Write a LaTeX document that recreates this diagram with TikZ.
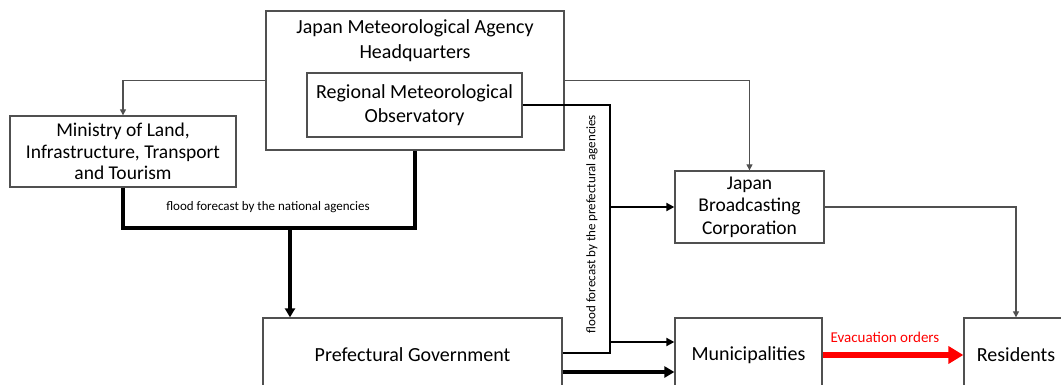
\documentclass[tikz,border=0pt]{standalone}
\usepackage{fontspec}
\setmainfont{Carlito}
\usetikzlibrary{arrows.meta}
\definecolor{boxgray}{HTML}{505050}
\definecolor{evred}{HTML}{FF0000}
\begin{document}
\begin{tikzpicture}[x=1pt,y=-1pt,
  box/.style={draw=boxgray,line width=1.3pt,rectangle,inner sep=0pt,align=center,
    font=\fontsize{20}{23}\selectfont},
  thinarrow/.style={draw=boxgray,line width=1.1pt,-{Triangle[length=6pt,width=6pt]}},
  thinline/.style={draw=boxgray,line width=1.1pt},
  natline/.style={draw=black,line width=3.3pt},
  natarrow/.style={draw=black,line width=3.3pt,-{Triangle[length=9pt,width=10pt]}},
  prefline/.style={draw=black,line width=2.6pt},
  prefarrow/.style={draw=black,line width=2.2pt,-{Triangle[length=8pt,width=8pt]}},
  bigarrow/.style={draw=black,line width=3.6pt,-{Triangle[length=10pt,width=11pt]}},
  redarrow/.style={draw=evred,line width=6pt,-{Triangle[length=15pt,width=17pt]}},
  smalltext/.style={font=\fontsize{13}{15}\selectfont,inner sep=0pt}
]
\path[use as bounding box,clip] (0,0) rectangle (1061,385);
\fill[white] (0,0) rectangle (1061,385);

% boxes
\node[box,minimum width=298pt,minimum height=139pt] (hq) at (415,80.5) {};
\node[align=center,inner sep=0pt,font=\fontsize{20}{25}\selectfont] (hqt) at (415,40.5) {Japan Meteorological Agency\\Headquarters};
\node[box,minimum width=215pt,minimum height=64pt,font=\fontsize{20}{24}\selectfont] (reg) at (414.5,105) {Regional Meteorological\\Observatory};
\node[box,minimum width=226pt,minimum height=71pt,font=\fontsize{19.5}{21.5}\selectfont] (min) at (123,151.5) {Ministry of Land,\\Infrastructure, Transport\\and Tourism};
\node[box,minimum width=149pt,minimum height=72pt,font=\fontsize{19.5}{22.5}\selectfont] (jbc) at (749.5,207) {Japan\\Broadcasting\\Corporation};
\node[box,minimum width=299pt,minimum height=74pt] (pref) at (412.5,355) {Prefectural Government};
\node[box,minimum width=147pt,minimum height=74pt] (mun) at (748.5,355) {Municipalities};
\node[box,minimum width=104pt,minimum height=74pt] (res) at (1016,355) {Residents};

% thin connectors
\draw[thinarrow] (hq.west) -| (min.north);
\draw[thinarrow] (hq.east) -| (jbc.north);
\draw[thinarrow] (jbc.east) -| (res.north);

% national forecast
\coordinate (natL) at (123,228);
\coordinate (natR) at (415,228);
\coordinate (natdrop) at (290,228);
\draw[natline,line join=miter] (min.south) -- (natL) -- (natR) -- (hq.south);
\draw[natarrow] (natdrop) -- (natdrop |- pref.north);
\node[smalltext] (natlab) at (268,207) {flood forecast by the national agencies};

% prefectural forecast
\coordinate (pTop) at (610,105);
\coordinate (pBot) at (610,353);
\coordinate (pJ) at (610,207);
\coordinate (pM) at (610,342);
\draw[prefline,line join=miter] (reg.east) -- (pTop) -- (pBot) -- (pref.east |- pBot);
\draw[prefarrow] (pJ) -- (jbc.west);
\draw[prefarrow] (pM) -- (mun.west |- pM);
\node[smalltext,rotate=90] (preflab) at (592,224) {flood forecast by the prefectural agencies};

% bottom arrows
\coordinate (bL) at (562,372);
\draw[bigarrow] (pref.east |- bL) -- (mun.west |- bL);
\draw[redarrow] (mun.east) -- (res.west);
\node[font=\fontsize{15}{17}\selectfont,text=evred,inner sep=0pt] (evlab) at (885,337) {Evacuation orders};
\end{tikzpicture}
\end{document}
